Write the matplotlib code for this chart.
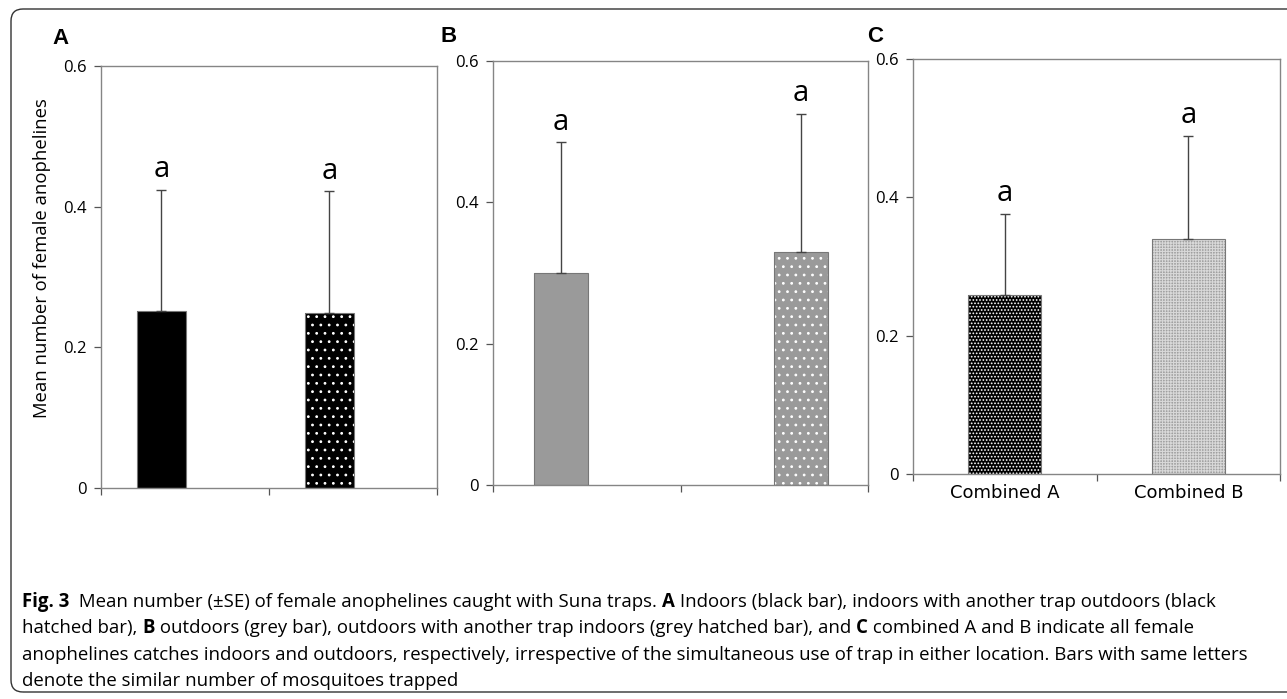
import numpy as np
import matplotlib
matplotlib.use("Agg")
import matplotlib.pyplot as plt
from matplotlib.patches import FancyBboxPatch
from matplotlib.transforms import IdentityTransform

plt.rcParams['font.family'] = ['Open Sans', 'DejaVu Sans']

# data
mean_a = [0.251, 0.249]
se_a = [0.173, 0.173]
mean_b = [0.300, 0.330]
se_b = [0.185, 0.195]
mean_c = [0.259, 0.340]
se_c = [0.117, 0.149]
letters_a = ['a', 'a']
letters_b = ['a', 'a']
letters_c = ['a', 'a']
labels_c = ['Combined A', 'Combined B']

W, H = 1287, 699
fig = plt.figure(figsize=(W / 100, H / 100), dpi=100)


def box(l, r, t, b):
    return [l / W, 1 - b / H, (r - l) / W, (b - t) / H]


def panel(rect, means, ses, pos, width, faces, hatches, hcols, letters):
    ax = fig.add_axes(rect)
    for m, s, x, fc, h, hc, let in zip(means, ses, pos, faces, hatches, hcols, letters):
        ax.bar(x, m, width, color=fc, edgecolor=hc, hatch=h, linewidth=0, zorder=2)
        ax.bar(x, m, width, facecolor='none', edgecolor='#777777', linewidth=0.8, zorder=3)
        ax.errorbar(x, m, yerr=[[0], [s]], fmt='none', ecolor='#444444',
                    elinewidth=1.0, capsize=3.5, capthick=1.0, zorder=4)
        ax.annotate(let, (x, m + s), xytext=(0, 4), textcoords='offset points',
                    ha='center', va='bottom', fontsize=21)
    ax.set_xlim(-0.5, 1.5)
    ax.set_ylim(0, 0.6)
    ax.set_yticks([0, 0.2, 0.4, 0.6])
    ax.set_yticklabels(['0', '0.2', '0.4', '0.6'], fontsize=12)
    ax.set_xticks([-0.5, 0.5, 1.5])
    ax.set_xticklabels([])
    ax.tick_params(axis='both', direction='out', length=5, width=0.9, color='#555555', pad=5)
    for sp in ax.spines.values():
        sp.set_color('#858585')
        sp.set_linewidth(1.0)
    return ax


plt.rcParams['hatch.linewidth'] = 0.8
axA = panel(box(101, 437, 66, 488), mean_a, se_a, [-0.14, 0.86], 0.29,
            ['black', 'black'], [None, '..'], ['black', 'white'], letters_a)
axA.set_ylabel('Mean number of female anophelines', fontsize=13.3)
axA.yaxis.set_label_coords(-0.148, 0.545)

axB = panel(box(493, 868, 61, 485), mean_b, se_b, [-0.137, 1.143], 0.29,
            ['#9a9a9a', '#9a9a9a'], [None, '..'], ['#9a9a9a', 'white'], letters_b)

axC = panel(box(913, 1280, 59, 474), mean_c, se_c, [0, 1], 0.40,
            ['black', '#a0a0a0'], ['.....', '++++++'], ['white', '#d8d8d8'], letters_c)
axC.set_xticks([0, 1], minor=True)
axC.set_xticklabels(labels_c, minor=True, fontsize=13, family=['DejaVu Sans'])
axC.tick_params(axis='x', which='minor', length=0, pad=7)

# panel letters
for lab, x, y in [('A', 60, 38), ('B', 449, 37), ('C', 875, 37)]:
    fig.text(x / W, 1 - y / H, lab, fontsize=16, fontweight='bold',
             family=['Liberation Sans', 'DejaVu Sans'], ha='center', va='center')

# outer frame
frame = FancyBboxPatch((11, 7), 1300, 683, boxstyle='round,pad=0,rounding_size=12',
                       transform=IdentityTransform(), facecolor='none',
                       edgecolor='#333333', linewidth=1.0)
fig.patches.append(frame)

# caption
caption = [
    [('Fig. 3', True), ('  Mean number (\u00b1SE) of female anophelines caught with Suna traps. ', False),
     ('A', True), (' Indoors (black bar), indoors with another trap outdoors (black', False)],
    [('hatched bar), ', False), ('B', True),
     (' outdoors (grey bar), outdoors with another trap indoors (grey hatched bar), and ', False),
     ('C', True), (' combined A and B indicate all female', False)],
    [('anophelines catches indoors and outdoors, respectively, irrespective of the simultaneous '
      'use of trap in either location. Bars with same letters', False)],
    [('denote the similar number of mosquitoes trapped', False)],
]
baselines = [607, 633, 660, 686]
renderer = fig.canvas.get_renderer()


def line_width(line, size):
    w = 0
    for s, bold in line:
        t = fig.text(0, 0, s, fontsize=size, fontweight='bold' if bold else 'normal')
        w += t.get_window_extent(renderer).width
        t.remove()
    return w


# first line runs to about x=1255, third to about x=1211; split the difference
cap_size = 11.3 * 1200 / line_width(caption[0], 11.3)
for line, yb in zip(caption, baselines):
    x = 22
    for s, bold in line:
        t = fig.text(x / W, 1 - yb / H, s, fontsize=cap_size,
                     fontweight='bold' if bold else 'normal', va='baseline', ha='left')
        x += t.get_window_extent(renderer).width

fig.savefig('out.png', dpi=100)
